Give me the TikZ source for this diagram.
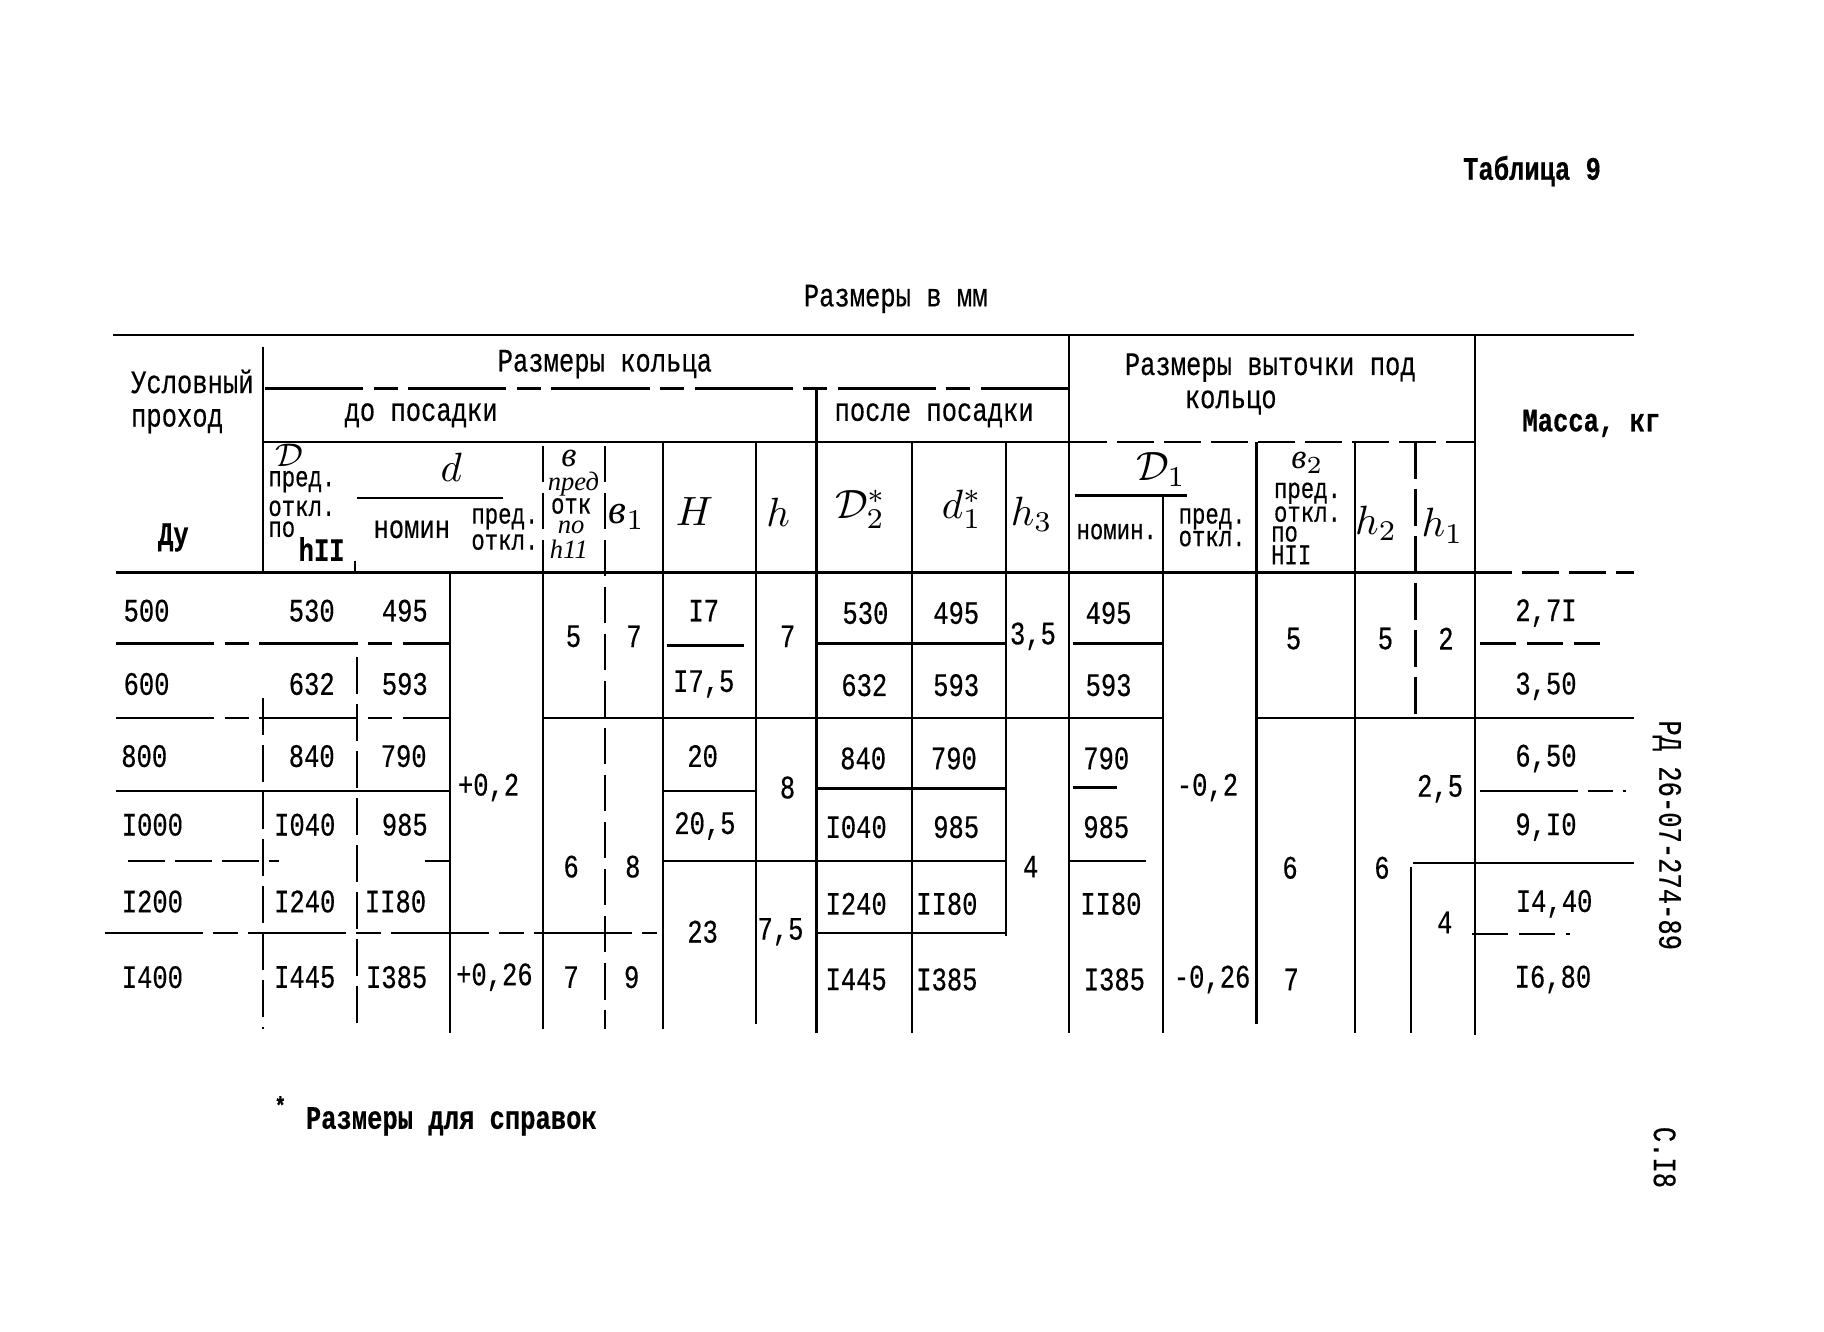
\documentclass[tikz,border=0pt]{standalone}
\usepackage{fontspec}
\newfontfamily\tw[FakeStretch=0.78,FakeBold=0.4]{Liberation Mono}
\newfontfamily\hwf{Liberation Serif}
\newcommand\Cell[4]{\node[tw] (#1) at (#2,#3) {#4};}
\begin{document}
\begin{tikzpicture}[x=0.1mm,y=-0.1mm,
  tw/.style={font=\tw\fontsize{8}{8.5}\selectfont, inner sep=0pt},
  twb/.style={font=\tw\bfseries\fontsize{8}{8.5}\selectfont, inner sep=0pt},
  hw/.style={font=\hwf\itshape\fontsize{10}{11}\selectfont, inner sep=0pt},
  hwm/.style={font=\hwf\itshape\fontsize{8.5}{9}\selectfont, inner sep=0pt},
  hws/.style={font=\hwf\itshape\fontsize{6.5}{7}\selectfont, inner sep=0pt},
  sm/.style={font=\tw\fontsize{7}{7.2}\selectfont, inner sep=0pt},
  ln/.style={line width=0.6pt},
  dl/.style={line width=0.6pt, dash pattern=on 9pt off 2.5pt},
  ld/.style={line width=0.6pt, dash pattern=on 24pt off 2.5pt on 6pt off 2.5pt}]
\useasboundingbox (0,0) rectangle (1568,1145);
% titles
\node[twb] (tab) at (1317,147) {Таблица 9};
\node[tw] (units) at (770,257) {Размеры в мм};
% ---------- horizontal lines ----------
\draw[ln] (97,288) -- (1405,288);
\draw[ld] (228,334) -- (920,334);
\draw[ln] (225,380) -- (920,380);
\draw[dl] (920,380) -- (1268,380);
\draw[ln] (924,426) -- (1020,426);
\draw[ln] (307,428) -- (432,428);
\draw[ln] (100,492) -- (1268,492);
\draw[dl] (1268,492) -- (1405,492);
% row 500/600
\draw[ld] (100,553) -- (387,553);
\draw[ln] (573,555) -- (640,555);
\draw[ln] (702,553) -- (865,553);
\draw[ln] (922,553) -- (1000,553);
\draw[dl] (1272,553) -- (1375,553);
% row 600/800
\draw[ld] (100,617) -- (387,617);
\draw[ln] (467,617) -- (1000,617);
\draw[ln] (1080,617) -- (1405,617);
% row 800/1000
\draw[ln] (100,680) -- (387,680);
\draw[ln] (570,680) -- (650,680);
\draw[ln] (702,678) -- (865,678);
\draw[ln] (922,677) -- (960,677);
\draw[ld] (1272,680) -- (1398,680);
% row 1000/1200
\draw[dl] (110,740) -- (240,740);
\draw[ln] (365,740) -- (387,740);
\draw[ln] (570,740) -- (865,740);
\draw[ln] (920,740) -- (985,740);
\draw[ln] (1215,742) -- (1405,742);
% row 1200/1400
\draw[ld] (90,802) -- (565,802);
\draw[ln] (702,802) -- (865,802);
\draw[dl] (1265,803) -- (1350,803);
% ---------- vertical lines ----------
\draw[ln] (226,298) -- (226,492);
\draw[dl] (226,600) -- (226,885);
\draw[ln] (305,482) -- (305,492);
\draw[dl] (307,565) -- (307,885);
\draw[ln] (387,492) -- (387,888);
\draw[dl] (467,383) -- (467,492);
\draw[ln] (467,492) -- (467,885);
\draw[dl] (520,383) -- (520,885);
\draw[ln] (570,380) -- (570,885);
\draw[ln] (650,380) -- (650,880);
\draw[ln] (702,334) -- (702,888);
\draw[ln] (784,380) -- (784,888);
\draw[ln] (865,380) -- (865,805);
\draw[ln] (919,288) -- (919,888);
\draw[ln] (1000,426) -- (1000,888);
\draw[ln] (1080,380) -- (1080,880);
\draw[ln] (1165,380) -- (1165,888);
\draw[dl] (1217,380) -- (1217,617);
\draw[ln] (1213,745) -- (1213,888);
\draw[ln] (1268,288) -- (1268,890);
% ---------- header texts ----------
\node[tw,anchor=west] (h1) at (112,328) {Условный};
\node[tw,anchor=west] (h2) at (112,362) {проход};
\node[twb] (h3) at (149,462) {Ду};
\node[tw] (h4) at (520,313) {Размеры кольца};
\node[tw] (h5) at (362,357) {до посадки};
\node[tw] (h6) at (803,357) {после посадки};
\node[tw] (h7) at (1092,316) {Размеры выточки под};
\node[tw] (h8) at (1058,346) {кольцо};
\node[twb] (h9) at (1368,364) {Масса, кг};
% D column
\node[hwm] (cD) at (249,391) {$\mathcal{D}$};
\node[sm,anchor=west] (cD1) at (230,414) {пред.};
\node[sm,anchor=west] (cD2) at (230,437) {откл.};
\node[sm,anchor=west] (cD3) at (230,455) {по};
\node[twb,anchor=west] (cD4) at (256,472) {hII};
% d column
\node[hw] (cd) at (388,402) {$d$};
\node[tw] (cd1) at (354,455) {номин};
\node[sm] (cd2) at (434,446) {пред.};
\node[sm] (cd3) at (434,466) {откл.};
% b column
\node[hwm] (cb) at (489,394) {в};
\node[hws] (cb1) at (493,416) {пред};
\node[sm] (cb2) at (491,435) {отк};
\node[hws] (cb3) at (491,453) {по};
\node[hws] (cb4) at (489,472) {h11};
% single columns
\node[hw] (cb1h) at (539,444) {в$_1$};
\node[hw] (cH) at (597,440) {$H$};
\node[hw] (ch) at (669,440) {$h$};
\node[hw] (cD2h) at (740,438) {$\mathcal{D}_2^{*}$};
\node[hw] (cd1h) at (827,438) {$d_1^{*}$};
\node[hw] (ch3) at (887,442) {$h_3$};
% D1
\node[hw] (cDD) at (998,404) {$\mathcal{D}_1$};
\node[sm] (cDD1) at (960,457) {номин.};
\node[sm] (cDD2) at (1042,446) {пред.};
\node[sm] (cDD3) at (1042,463) {откл.};
% b2
\node[hwm] (cb2h) at (1124,398) {в$_2$};
\node[sm] (cb21) at (1124,424) {пред.};
\node[sm] (cb22) at (1124,442) {откл.};
\node[sm,anchor=west] (cb23) at (1092,459) {по};
\node[sm,anchor=west] (cb24) at (1092,477) {НII};
\node[hw] (ch2) at (1183,450) {$h_2$};
\node[hw] (ch1) at (1240,452) {$h_1$};
% ---------- data ----------
% row 500
\Cell{a1}{126}{525}{500}
\Cell{a2}{268}{525}{530}
\Cell{a3}{348}{525}{495}
\Cell{a4}{605}{525}{I7}
\Cell{a5}{744}{527}{530}
\Cell{a6}{822}{527}{495}
\Cell{a7}{953}{527}{495}
\Cell{a8}{1329}{527}{2,7I}
% spanning rows 500-600
\Cell{s1}{493}{547}{5}
\Cell{s2}{545}{547}{7}
\Cell{s3}{677}{547}{7}
\Cell{s4}{888}{547}{3,5}
\Cell{s5}{1112}{549}{5}
\Cell{s6}{1191}{549}{5}
\Cell{s7}{1243}{549}{2}
% row 600
\Cell{b1}{126}{588}{600}
\Cell{b2}{268}{588}{632}
\Cell{b3}{348}{588}{593}
\Cell{b4}{605}{588}{I7,5}
\Cell{b5}{743}{589}{632}
\Cell{b6}{822}{589}{593}
\Cell{b7}{953}{589}{593}
\Cell{b8}{1329}{590}{3,50}
% row 800
\Cell{c1}{124}{650}{800}
\Cell{c2}{268}{650}{840}
\Cell{c3}{347}{650}{790}
\Cell{c4}{604}{650}{20}
\Cell{c5}{742}{652}{840}
\Cell{c6}{820}{652}{790}
\Cell{c7}{951}{652}{790}
\Cell{c8}{1329}{652}{6,50}
% spanning
\Cell{t1}{420}{677}{+0,2}
\Cell{t2}{677}{677}{8}
\Cell{t3}{1038}{677}{-0,2}
\Cell{t4}{1238}{678}{2,5}
\Cell{t5}{491}{745}{6}
\Cell{t6}{544}{745}{8}
\Cell{t7}{886}{745}{4}
\Cell{t8}{1109}{746}{6}
\Cell{t9}{1188}{746}{6}
% row 1000
\Cell{d1}{131}{709}{I000}
\Cell{d2}{262}{709}{I040}
\Cell{d3}{348}{709}{985}
\Cell{d4}{606}{710}{20,5}
\Cell{d5}{736}{711}{I040}
\Cell{d6}{822}{711}{985}
\Cell{d7}{951}{711}{985}
\Cell{d8}{1329}{711}{9,I0}
% row 1200
\Cell{e1}{131}{775}{I200}
\Cell{e2}{262}{775}{I240}
\Cell{e3}{340}{775}{II80}
\Cell{e4}{736}{777}{I240}
\Cell{e5}{814}{777}{II80}
\Cell{e6}{955}{777}{II80}
\Cell{e7}{1336}{777}{I4,40}
\Cell{u1}{604}{801}{23}
\Cell{u2}{671}{801}{7,5}
\Cell{u3}{1242}{793}{4}
% row 1400
\Cell{f1}{131}{840}{I400}
\Cell{f2}{262}{840}{I445}
\Cell{f3}{341}{840}{I385}
\Cell{f4}{425}{840}{+0,26}
\Cell{f5}{491}{840}{7}
\Cell{f6}{543}{840}{9}
\Cell{f7}{736}{842}{I445}
\Cell{f8}{814}{842}{I385}
\Cell{f9}{958}{842}{I385}
\Cell{f10}{1042}{842}{-0,26}
\Cell{f11}{1110}{842}{7}
\Cell{f12}{1335}{842}{I6,80}
% ---------- side and foot ----------
\node[tw,rotate=-90] (side) at (1433,718) {РД 26-07-274-89};
\node[tw,rotate=-90] (page) at (1431,995) {С.I8};
\node[twb,font=\tw\bfseries\fontsize{6}{6}\selectfont] (star) at (241,950) {*};
\node[twb] (foot) at (388,964) {Размеры для справок};
\end{tikzpicture}
\end{document}
